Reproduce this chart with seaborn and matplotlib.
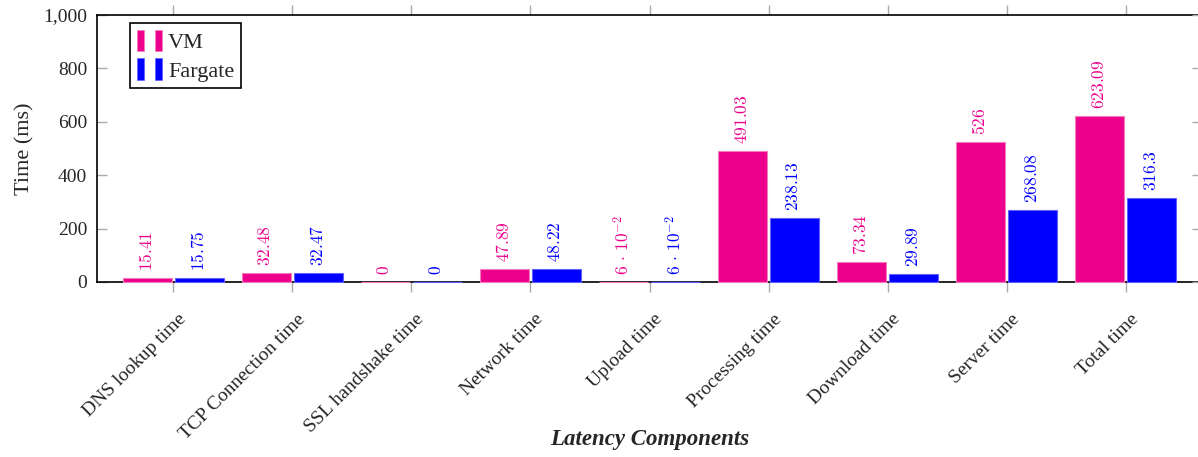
import matplotlib
matplotlib.use("Agg")
import matplotlib.pyplot as plt
from matplotlib.patches import Rectangle
from matplotlib.legend_handler import HandlerTuple
from matplotlib.ticker import FuncFormatter
from matplotlib.transforms import ScaledTranslation
import seaborn as sns
import pandas as pd

categories = ["DNS lookup time", "TCP Connection time", "SSL handshake time",
              "Network time", "Upload time", "Processing time",
              "Download time", "Server time", "Total time"]
vm_values = [15.41, 32.48, 0, 47.89, 0.06, 491.03, 73.34, 526, 623.09]
fargate_values = [15.75, 32.47, 0, 48.22, 0.06, 238.13, 29.89, 268.08, 316.3]
series_names = ["VM", "Fargate"]
y_ticks = [0, 200, 400, 600, 800, 1000]

colors = {"VM": "#EC008C", "Fargate": "#0000FF"}
edge_colors = {"VM": "#F27CBC", "Fargate": "#6060FF"}

df = pd.DataFrame({
    "component": categories * 2,
    "series": ["VM"] * len(categories) + ["Fargate"] * len(categories),
    "time": vm_values + fargate_values,
})

sns.set_style("white")
plt.rcParams["font.family"] = ["Liberation Serif", "DejaVu Serif"]
plt.rcParams["mathtext.fontset"] = "cm"

fig = plt.figure(figsize=(11.98, 4.57), dpi=100)
ax = fig.add_axes([97 / 1198, 1 - 282 / 457, 1105 / 1198, 267 / 457])

sns.barplot(data=df, x="component", y="time", hue="series",
            hue_order=series_names, order=categories, palette=colors,
            width=0.87, gap=0.05, ax=ax, legend=False, saturation=1,
            linewidth=0.8)

for container, name in zip(ax.containers, series_names):
    for patch in container:
        patch.set_edgecolor(edge_colors[name])
        patch.set_zorder(3)
        patch.set_clip_on(False)


def fmt_value(v):
    if v == 0:
        return r"$0$"
    if v < 0.1:
        mant = v * 100
        return r"$%g\,\cdot\,10^{-2}$" % mant
    return r"$%g$" % v


for container, name, vals in zip(ax.containers, series_names,
                                 [vm_values, fargate_values]):
    for patch, v in zip(container, vals):
        x = patch.get_x() + patch.get_width() / 2
        ax.annotate(fmt_value(v), xy=(x, v), xytext=(0, 5),
                    textcoords="offset points", rotation=90,
                    ha="center", va="bottom", color=colors[name],
                    fontsize=12.5)

ax.set_ylim(0, 1000)
ax.set_xlim(-0.64, len(categories) - 1 + 0.64)
ax.set_yticks(y_ticks)
ax.yaxis.set_major_formatter(FuncFormatter(lambda v, p: f"{int(v):,}"))
ax.tick_params(axis="y", direction="in", length=7, width=1,
               color="#AAAAAA", labelsize=14, left=True, pad=7)
ax.tick_params(axis="x", direction="out", length=7.5, width=1,
               color="#AAAAAA", labelsize=14, bottom=True, top=True,
               pad=3)
ax.set_xticks(range(len(categories)))
ax.set_xticklabels(categories, rotation=45, ha="right", va="center",
                   rotation_mode="anchor")
shift = ScaledTranslation(10 / 100, -20 / 100, fig.dpi_scale_trans)
for lbl in ax.get_xticklabels():
    lbl.set_transform(lbl.get_transform() + shift)

for side in ["left", "right", "top", "bottom"]:
    ax.spines[side].set_visible(True)
    ax.spines[side].set_color("black")
    ax.spines[side].set_linewidth(1.2)

ax2 = ax.twinx()
ax2.set_ylim(0, 1000)
ax2.set_yticks(y_ticks)
ax2.tick_params(axis="y", direction="in", length=7, width=1,
                color="#AAAAAA", labelright=False)
for side in ["left", "right", "top", "bottom"]:
    ax2.spines[side].set_visible(False)

ax.set_ylabel("Time (ms)", fontsize=16, labelpad=6)
ax.set_xlabel("Latency Components", fontsize=16.5, fontweight="bold",
              fontstyle="italic")
ax.xaxis.set_label_coords(0.5, (282 - 440) / 267)
ax.xaxis.label.set_verticalalignment("center")

handles = []
for name in series_names:
    handles.append((Rectangle((0, 0), 1, 1, facecolor=colors[name],
                              edgecolor=edge_colors[name], lw=0.5),
                    Rectangle((0, 0), 1, 1, facecolor=colors[name],
                              edgecolor=edge_colors[name], lw=0.5)))
leg = ax.legend(handles, series_names, loc="upper left",
                bbox_to_anchor=(0.03, 0.97),
                handler_map={tuple: HandlerTuple(ndivide=None, pad=0.5)},
                handlelength=1.15, handleheight=1.1, handletextpad=0.25,
                fontsize=16, frameon=True, fancybox=False, framealpha=1,
                edgecolor="black", borderpad=0.3, labelspacing=0.25,
                borderaxespad=0)
leg.get_frame().set_linewidth(1.2)

fig.savefig("out.png", dpi=100)
